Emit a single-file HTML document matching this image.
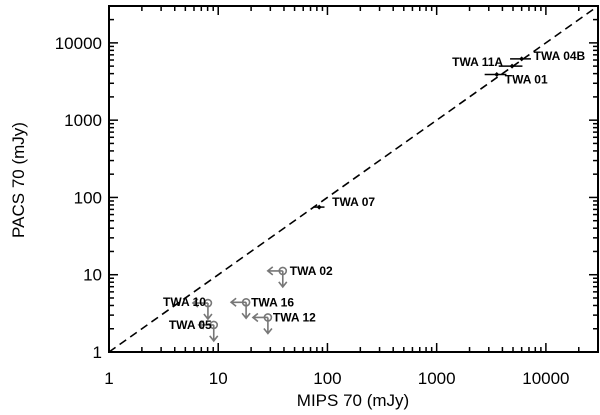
<!DOCTYPE html>
<html><head><meta charset="utf-8"><style>
body{margin:0;background:#fff}
svg{display:block;font-family:"Liberation Sans",Arial,sans-serif}
</style></head><body>
<svg id="chart" width="600" height="415" xmlns="http://www.w3.org/2000/svg">
<g id="plot"></g>
</svg>
<script>
const detNames=["TWA 04B","TWA 11A","TWA 01","TWA 07"];
const detX=[6000,4900,3550,84];
const detY=[6200,5000,3900,75];
const detXErr=[1300,1200,800,10];
const limNames=["TWA 02","TWA 16","TWA 12","TWA 10","TWA 05"];
const limX=[39,18,28.5,8.05,9.1];
const limY=[11.2,4.4,2.8,4.3,2.24];
const xTicks=[1,10,100,1000,10000];
const yTicks=[1,10,100,1000,10000];
const L=109,R=598,T=6,B=352,MIN=1,MAX=30000;
const lr=Math.log10(MAX/MIN);
const sx=v=>L+(R-L)*Math.log10(v/MIN)/lr;
const sy=v=>B-(B-T)*Math.log10(v/MIN)/lr;
const NS="http://www.w3.org/2000/svg";
const g=document.getElementById('plot');
function mk(t,a,p){const e=document.createElementNS(NS,t);for(const k in a)e.setAttribute(k,a[k]);(p||g).appendChild(e);return e;}
let fr=mk('rect',{x:L,y:T,width:R-L,height:B-T,fill:'none',stroke:'#000','stroke-width':2});


for(let d=0;d<5;d++){for(let m=1;m<10;m++){const v=Math.pow(10,d)*m;if(v>MAX)break;
 const len=m===1?9:5;const x=sx(v),y=sy(v);
 mk('line',{x1:x,y1:B,x2:x,y2:B-len,stroke:'#000','stroke-width':1.5});
 mk('line',{x1:x,y1:T,x2:x,y2:T+len,stroke:'#000','stroke-width':1.5});
 mk('line',{x1:L,y1:y,x2:L+len,y2:y,stroke:'#000','stroke-width':1.5});
 mk('line',{x1:R,y1:y,x2:R-len,y2:y,stroke:'#000','stroke-width':1.5});
}}
xTicks.forEach(v=>{const t=mk('text',{x:sx(v),y:384,'text-anchor':'middle','font-size':17});t.textContent=v;

});
yTicks.forEach(v=>{const t=mk('text',{x:L-7,y:sy(v)+6,'text-anchor':'end','font-size':17});t.textContent=v;

});
let xt=mk('text',{x:353,y:406,'text-anchor':'middle','font-size':17});xt.textContent='MIPS 70 (mJy)';


let yt=mk('text',{x:0,y:0,'text-anchor':'middle','font-size':17,transform:'translate(24,180) rotate(-90)'});yt.textContent='PACS 70 (mJy)';


let one=mk('line',{x1:sx(MIN),y1:sy(MIN),x2:sx(MAX),y2:sy(MAX),stroke:'#000','stroke-width':1.6,'stroke-dasharray':'8,5'});


const detLab=[[12,-3,'start'],[-9,-4,'end'],[8,5,'start'],[13,-5,'start']];
detNames.forEach((n,i)=>{const x=sx(detX[i]),y=sy(detY[i]);
 const grp=mk('g',{});
 
 
 mk('line',{x1:sx(detX[i]-detXErr[i]),y1:y,x2:sx(detX[i]+detXErr[i]),y2:y,stroke:'#000','stroke-width':1.5},grp);
 mk('path',{d:`M${x-2.5} ${y}L${x} ${y-2.5}L${x+2.5} ${y}L${x} ${y+2.5}Z`,fill:'#000'},grp);
 const t=mk('text',{x:x+detLab[i][0],y:y+detLab[i][1]+4,'text-anchor':detLab[i][2],'font-size':12,'font-weight':'bold'},grp);t.textContent=n;
});
const limLab=[[7,0,'start'],[5,0,'start'],[5,0,'start'],[-2,-1,'end'],[-2,0,'end']];
limNames.forEach((n,i)=>{const x=sx(limX[i]),y=sy(limY[i]);
 const grp=mk('g',{stroke:'#777','stroke-width':1.6,fill:'none'});
 
 
 mk('circle',{cx:x,cy:y,r:3.5},grp);
 mk('path',{d:`M${x} ${y}H${x-15}M${x-10} ${y-4}L${x-15} ${y}L${x-10} ${y+4}`},grp);
 mk('path',{d:`M${x} ${y}V${y+16}M${x-4} ${y+11}L${x} ${y+16}L${x+4} ${y+11}`},grp);
 const t=mk('text',{x:x+limLab[i][0],y:y+limLab[i][1]+4,'text-anchor':limLab[i][2],'font-size':12,'font-weight':'bold',fill:'#000',stroke:'none'},grp);t.textContent=n;
});
</script>
</body></html>
